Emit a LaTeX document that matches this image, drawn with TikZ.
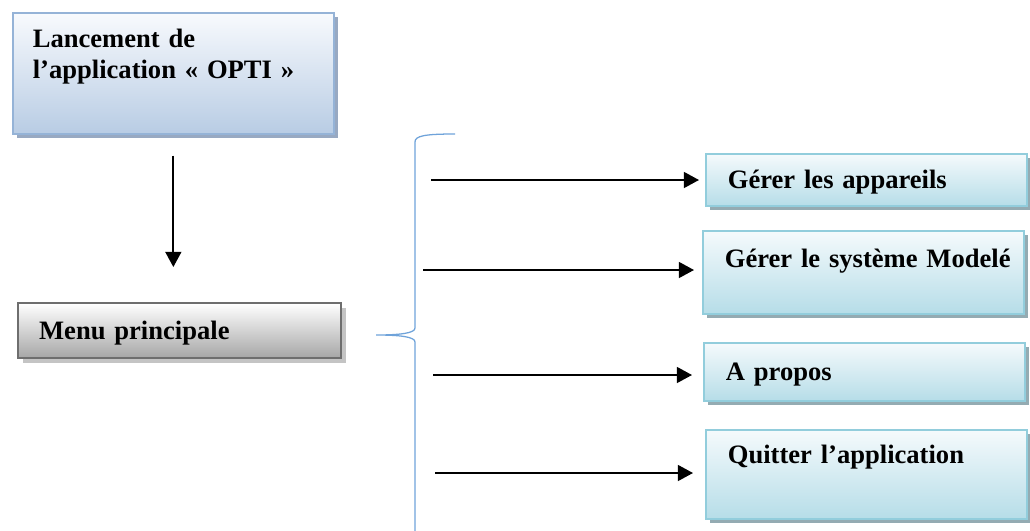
\documentclass[tikz,border=0pt]{standalone}
\usepackage{fontspec}
\setmainfont{Liberation Serif}
\usetikzlibrary{arrows.meta, shadows}

\definecolor{launchtop}{HTML}{F8FAFD}
\definecolor{launchbot}{HTML}{B8CCE4}
\definecolor{launchline}{HTML}{95B3D7}
\definecolor{launchshadow}{HTML}{98A9C2}
\definecolor{menutop}{HTML}{FFFFFF}
\definecolor{menubot}{HTML}{A6A6A6}
\definecolor{menuline}{HTML}{6E6E6E}
\definecolor{menushadow}{HTML}{C4C4C4}
\definecolor{choicetop}{HTML}{F5FAFC}
\definecolor{choicebot}{HTML}{B6DDE8}
\definecolor{choiceline}{HTML}{92CDDC}
\definecolor{choiceshadow}{HTML}{94ABB2}
\definecolor{bracecol}{HTML}{6FA3DA}

\begin{document}
\begin{tikzpicture}[
        every node/.style={rectangle, anchor=north west, inner ysep=0pt, align=left,
            font=\fontsize{18.9}{22}\selectfont\bfseries},
        launch/.style={draw=launchline, line width=1.2pt, top color=launchtop, bottom color=launchbot,
            inner xsep=0.5cm, text width=7.025cm,
            drop shadow={shadow xshift=0.1cm, shadow yshift=-0.1cm, fill=launchshadow, opacity=1}},
        menubox/.style={draw=menuline, line width=1.6pt, top color=menutop, bottom color=menubot,
            inner xsep=0.525cm, text width=7.025cm,
            drop shadow={shadow xshift=0.12cm, shadow yshift=-0.12cm, fill=menushadow, opacity=1}},
        choice/.style={draw=choiceline, line width=1.2pt, top color=choicetop, bottom color=choicebot,
            inner xsep=0.55cm, text width=6.925cm,
            drop shadow={shadow xshift=0.1cm, shadow yshift=-0.1cm, fill=choiceshadow, opacity=1}},
        arr/.style={-{Triangle[length=0.38cm, width=0.4cm]}, line width=1.3pt},
        brace/.style={draw=bracecol, line width=0.9pt}
    ]

    \useasboundingbox (0,0) rectangle (25.75,-13.25);

    % Start and main menu
    \node[launch, text height=0.875cm, text depth=2.15cm] (launch) at (0.3, -0.3)
        {Lancement de\\l’application « OPTI »};
    \node[menubox, text height=0.9cm, text depth=0.475cm] (menu) at (0.425, -7.55) {Menu principale};

    % Menu choices
    \node[choice, text height=0.875cm, text depth=0.425cm] (devices) at (17.625, -3.825) {Gérer les appareils};
    \node[choice, text height=0.925cm, text depth=1.15cm] (model) at (17.55, -5.75) {\mbox{Gérer le système Modelé}};
    \node[choice, text height=0.95cm, text depth=0.5cm] (about) at (17.575, -8.55) {A propos};
    \node[choice, text height=0.85cm, text depth=1.375cm] (quit) at (17.625, -10.725) {Quitter l’application};

    % Start of the choice arrows
    \coordinate (s1) at (10.775, -4.5);
    \coordinate (s2) at (10.575, -6.75);
    \coordinate (s3) at (10.825, -9.375);
    \coordinate (s4) at (10.875, -11.825);

    % Launch to menu
    \draw[arr, shorten <=0.525cm, shorten >=0.875cm] (launch.south) -- (launch.south |- menu.north);

    % Brace
    \draw[brace] (11.375, -3.35) .. controls (10.6, -3.35) and (10.375, -3.4) .. (10.375, -3.55)
        -- (10.375, -8.2) .. controls (10.375, -8.33) and (10.0, -8.375) .. (9.4, -8.375)
        .. controls (10.0, -8.375) and (10.375, -8.42) .. (10.375, -8.55) -- (10.375, -13.3);

    % Choices
    \draw[arr, shorten >=0.15cm] (s1) -- (s1 -| devices.west);
    \draw[arr, shorten >=0.2cm] (s2) -- (s2 -| model.west);
    \draw[arr, shorten >=0.275cm] (s3) -- (s3 -| about.west);
    \draw[arr, shorten >=0.3cm] (s4) -- (s4 -| quit.west);

\end{tikzpicture}
\end{document}
